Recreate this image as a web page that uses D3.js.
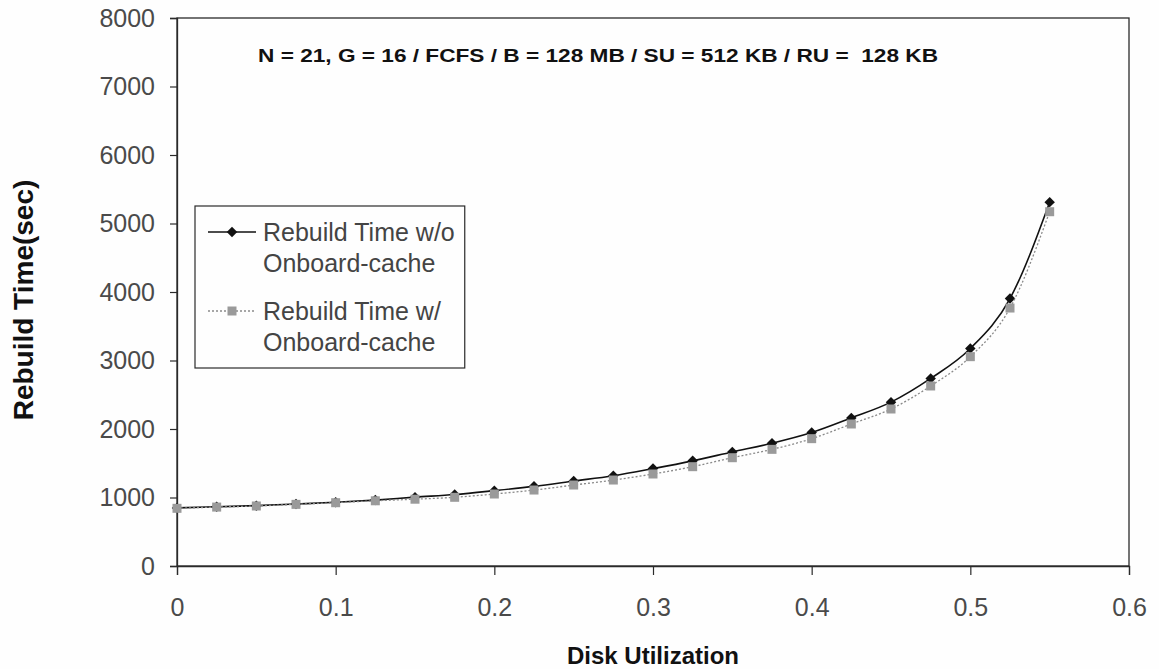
<!DOCTYPE html>
<html>
<head>
<meta charset="utf-8">
<script src="https://cdn.jsdelivr.net/npm/d3@7"></script>
<style>
  body { margin: 0; background: #fff; }
  svg { display: block; }
</style>
</head>
<body>
<svg id="chart" width="1159" height="669"></svg>
<script>
// data
const utilization = [0, 0.025, 0.05, 0.075, 0.1, 0.125, 0.15, 0.175, 0.2, 0.225, 0.25, 0.275,
  0.3, 0.325, 0.35, 0.375, 0.4, 0.425, 0.45, 0.475, 0.5, 0.525, 0.55];
const rebuildNoCache = [848, 865, 881, 905, 930, 962, 1005, 1043, 1100, 1163, 1240, 1318,
  1422, 1535, 1665, 1792, 1948, 2162, 2392, 2738, 3176, 3905, 5312];
const rebuildCache = [842, 860, 876, 900, 924, 952, 975, 1003, 1051, 1109, 1182, 1255,
  1343, 1450, 1581, 1703, 1859, 2073, 2292, 2628, 3056, 3766, 5172];
const xTicks = [0, 0.1, 0.2, 0.3, 0.4, 0.5, 0.6];
const yTicks = [0, 1000, 2000, 3000, 4000, 5000, 6000, 7000, 8000];
const titleText = "N = 21, G = 16 / FCFS / B = 128 MB / SU = 512 KB / RU =  128 KB";
const legendLabels = [["Rebuild Time w/o", "Onboard-cache"], ["Rebuild Time w/", "Onboard-cache"]];

const font = "'Liberation Sans', Arial, sans-serif";
const ink = "#2a2a2a";
const grey = "#9a9a9a";

const plot = { left: 177, right: 1129, top: 18, bottom: 566 };

const svg = d3.select("#chart");
svg.append("rect").attr("width", 1159).attr("height", 669).attr("fill", "#fefefe");

const x = d3.scaleLinear().domain([0, 0.6]).range([plot.left, plot.right]);
const y = d3.scaleLinear().domain([0, 8000]).range([plot.bottom, plot.top]);

// frame
svg.append("rect")
  .attr("x", plot.left).attr("y", plot.top)
  .attr("width", plot.right - plot.left).attr("height", plot.bottom - plot.top)
  .attr("fill", "none").attr("stroke", ink).attr("stroke-width", 1.3);

// axes
const xAxis = svg.append("g")
  .attr("transform", `translate(0,${plot.bottom})`)
  .call(d3.axisBottom(x).tickValues(xTicks).tickFormat(d3.format("")).tickSize(9).tickPadding(23));
const yAxis = svg.append("g")
  .attr("transform", `translate(${plot.left},0)`)
  .call(d3.axisLeft(y).tickValues(yTicks).tickFormat(d3.format("d")).tickSize(7).tickPadding(15));

for (const ax of [xAxis, yAxis]) {
  ax.select(".domain").attr("stroke", ink).attr("stroke-width", 1.3);
  ax.selectAll(".tick line").attr("stroke", ink).attr("stroke-width", 1.2);
  ax.selectAll(".tick text")
    .attr("fill", "#4a4a4a")
    .attr("font-family", font)
    .attr("font-size", 25);
}

// axis titles
svg.append("text")
  .attr("x", (plot.left + plot.right) / 2)
  .attr("y", 664)
  .attr("text-anchor", "middle")
  .attr("font-family", font)
  .attr("font-weight", "bold")
  .attr("font-size", 24)
  .attr("fill", "#111")
  .text("Disk Utilization");

svg.append("text")
  .attr("transform", "translate(33,300) rotate(-90)")
  .attr("text-anchor", "middle")
  .attr("font-family", font)
  .attr("font-weight", "bold")
  .attr("font-size", 28)
  .attr("fill", "#111")
  .text("Rebuild Time(sec)");

// parameter line inside the plot
svg.append("text")
  .attr("x", 258)
  .attr("y", 62)
  .attr("font-family", font)
  .attr("font-weight", "bold")
  .attr("font-size", 19)
  .attr("fill", "#111")
  .attr("textLength", 680)
  .attr("lengthAdjust", "spacingAndGlyphs")
  .style("white-space", "pre")
  .text(titleText);

// series
const line = (vals) => d3.line()
  .x((d, i) => x(utilization[i]))
  .y((d) => y(d))
  .curve(d3.curveMonotoneX)(vals);

svg.append("path")
  .attr("d", line(rebuildNoCache))
  .attr("fill", "none")
  .attr("stroke", "#111")
  .attr("stroke-width", 1.6);

const diamond = d3.symbol().type(d3.symbolDiamond2).size(70);
svg.append("g")
  .selectAll("path")
  .data(rebuildNoCache)
  .join("path")
  .attr("transform", (d, i) => `translate(${x(utilization[i])},${y(d)})`)
  .attr("d", diamond)
  .attr("fill", "#111");

svg.append("path")
  .attr("d", line(rebuildCache))
  .attr("fill", "none")
  .attr("stroke", "#8a8a8a")
  .attr("stroke-width", 1.3)
  .attr("stroke-dasharray", "2,2");

svg.append("g")
  .selectAll("rect")
  .data(rebuildCache)
  .join("rect")
  .attr("x", (d, i) => x(utilization[i]) - 4.5)
  .attr("y", (d) => y(d) - 4.5)
  .attr("width", 9)
  .attr("height", 9)
  .attr("fill", grey);

// legend
const legend = svg.append("g");
const legendBox = legend.append("rect")
  .attr("x", 195).attr("y", 206)
  .attr("height", 162)
  .attr("fill", "#fefefe")
  .attr("stroke", ink)
  .attr("stroke-width", 1.2);

const legendRows = [232, 311];
let textRight = 0;
legendRows.forEach((ly, k) => {
  const g = legend.append("g").attr("transform", `translate(0,${ly})`);
  if (k === 0) {
    g.append("line").attr("x1", 208).attr("x2", 256).attr("stroke", "#111").attr("stroke-width", 1.4);
    g.append("path").attr("transform", "translate(232,0)").attr("d", diamond).attr("fill", "#111");
  } else {
    g.append("line").attr("x1", 208).attr("x2", 256).attr("stroke", "#8a8a8a")
      .attr("stroke-width", 1.3).attr("stroke-dasharray", "2,2");
    g.append("rect").attr("x", 227.5).attr("y", -4.5).attr("width", 9).attr("height", 9).attr("fill", grey);
  }
  legendLabels[k].forEach((t, j) => {
    const tx = g.append("text")
      .attr("x", 263)
      .attr("y", 9 + j * 31)
      .attr("font-family", font)
      .attr("font-size", 25)
      .attr("fill", "#444")
      .text(t);
    textRight = Math.max(textRight, 263 + tx.node().getComputedTextLength());
  });
});
legendBox.attr("width", textRight + 10 - 195);
</script>
</body>
</html>
